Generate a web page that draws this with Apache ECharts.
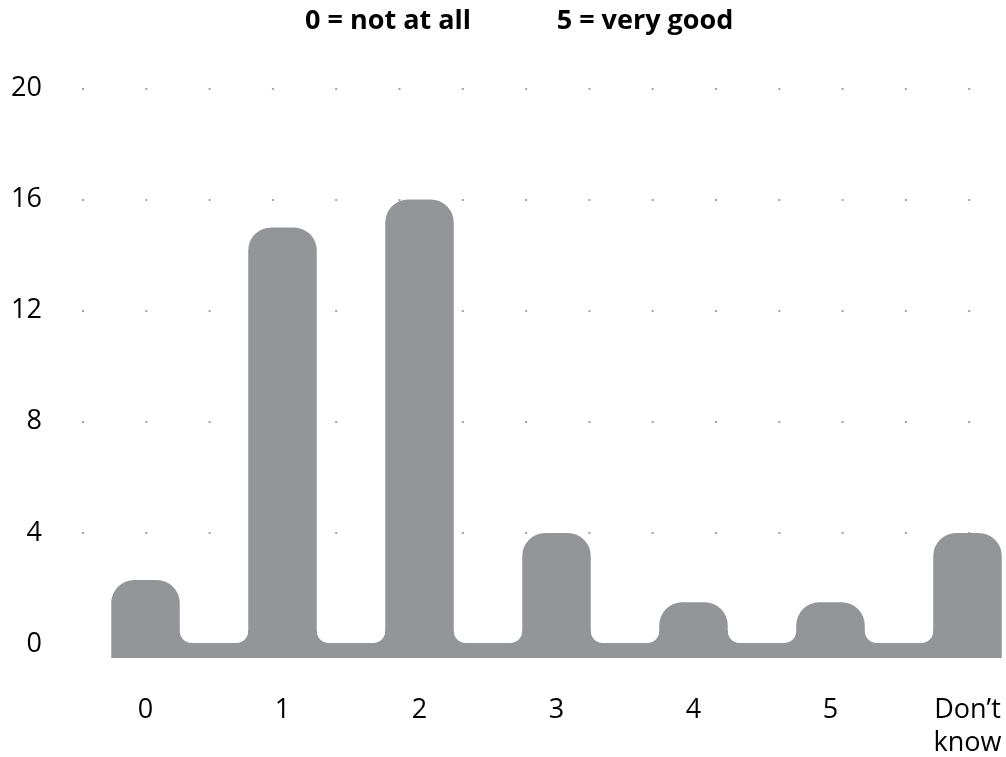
<!DOCTYPE html>
<html>
<head>
<meta charset="utf-8">
<script src="https://cdn.jsdelivr.net/npm/echarts@6/dist/echarts.min.js"></script>
<style>
html,body{margin:0;padding:0;background:#fff;}
#chart{width:1006px;height:757px;}
</style>
</head>
<body>
<div id="chart"></div>
<script>
// ---- data ----
const categories = ['0', '1', '2', '3', '4', '5', 'Don\u2019t\nknow'];
const values = [2.3, 15, 16, 4, 1.5, 1.5, 4];
const yTicks = [0, 4, 8, 12, 16, 20];
const headings = ['0 = not at all', '5 = very good'];

// ---- styling ----
const FONT = '"Open Sans", "Noto Sans", sans-serif';
const GREY = '#939598';
const BAR_RATIO = 0.5;     // bar width as share of band
const TOP_R = 23;          // radius of bar tops
const BASE_DROP = 15;      // px below zero line the base strip reaches
const FILLET = 12;         // radius of the inner corners of the base strip
const K = 0.5523;
const GRID_TOP = 88.5, GRID_BOTTOM = 113;

const chart = echarts.init(document.getElementById('chart'), null, {renderer: 'canvas'});

function renderItem(params, api) {
  const i = api.value(0);
  const v = api.value(1);
  const top = api.coord([i, v]);
  const zero = api.coord([i, 0]);
  const band = api.size([1, 0])[0];
  const bw = band * BAR_RATIO;
  const cx = top[0];
  const base = zero[1] - 1;
  const bottom = base + BASE_DROP;
  const children = [{
    type: 'rect',
    shape: {x: cx - bw / 2, y: top[1], width: bw, height: bottom - top[1], r: [TOP_R, TOP_R, 0, 0]},
    style: {fill: GREY}
  }];
  if (i < categories.length - 1) {
    const xR = cx + bw / 2;
    const xL = cx + band - bw / 2;
    const r = FILLET;
    const d = [
      'M', xR - 1, bottom,
      'L', xR - 1, base - r,
      'L', xR, base - r,
      'C', xR, base - r + K * r, xR + r - K * r, base, xR + r, base,
      'L', xL - r, base,
      'C', xL - r + K * r, base, xL, base - r + K * r, xL, base - r,
      'L', xL + 1, base - r,
      'L', xL + 1, bottom,
      'Z'
    ].join(' ');
    children.push({type: 'path', shape: {pathData: d}, style: {fill: GREY}});
  }
  return {type: 'group', children: children};
}

const yBase = {
  type: 'value',
  min: yTicks[0],
  max: yTicks[yTicks.length - 1],
  interval: yTicks[1] - yTicks[0],
  axisLine: {show: false},
  axisTick: {show: false}
};

const option = {
  backgroundColor: '#fff',
  animation: false,
  textStyle: {fontFamily: FONT},
  grid: [
    {left: 77, right: 0, top: GRID_TOP, bottom: GRID_BOTTOM, containLabel: false, outerBoundsMode: 'none'},
    {left: 145.5, right: 38.5, top: GRID_TOP, bottom: GRID_BOTTOM, containLabel: false, outerBoundsMode: 'none'}
  ],
  graphic: [
    {type: 'text', x: 388, y: 21, style: {text: headings[0], fontFamily: FONT, fontWeight: 'bold', fontSize: 27, fill: '#000', align: 'center', verticalAlign: 'middle'}},
    {type: 'text', x: 645, y: 21, style: {text: headings[1], fontFamily: FONT, fontWeight: 'bold', fontSize: 27, fill: '#000', align: 'center', verticalAlign: 'middle'}}
  ],
  xAxis: [
    {type: 'value', gridIndex: 0, show: false, min: 0, max: 1},
    {
      type: 'category',
      gridIndex: 1,
      data: categories,
      boundaryGap: false,
      axisLine: {show: false},
      axisTick: {show: false},
      splitLine: {show: false},
      axisLabel: {
        color: '#000', fontFamily: FONT, fontSize: 27, lineHeight: 33,
        margin: 50, interval: 0, verticalAlign: 'top'
      }
    }
  ],
  yAxis: [
    Object.assign({}, yBase, {
      gridIndex: 0,
      axisLabel: {color: '#000', fontFamily: FONT, fontSize: 27, margin: 35},
      splitLine: {
        show: true,
        showMinLine: false,
        lineStyle: {color: '#a3a3a3', width: 2, type: [2, 61.3], dashOffset: 58.3}
      }
    }),
    Object.assign({}, yBase, {
      gridIndex: 1,
      axisLabel: {show: false},
      splitLine: {show: false}
    })
  ],
  series: [{
    type: 'custom',
    xAxisIndex: 1,
    yAxisIndex: 1,
    renderItem: renderItem,
    clip: false,
    data: values.map((v, i) => [i, v]),
    encode: {x: 0, y: 1}
  }]
};
chart.setOption(option);
</script>
</body>
</html>
